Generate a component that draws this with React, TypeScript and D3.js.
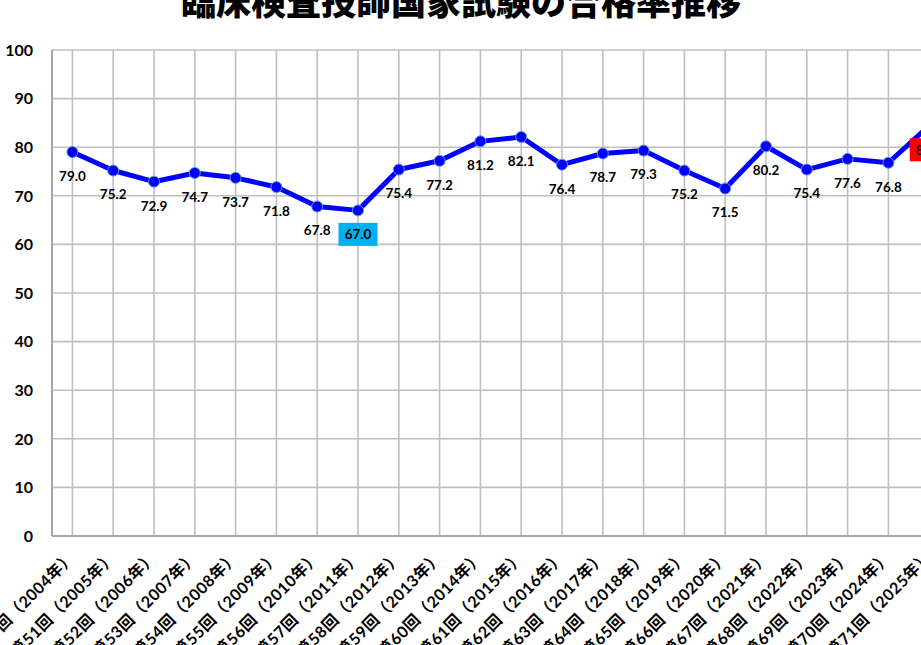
import * as d3 from 'd3'

const categories = [
  '第50回（2004年）', '第51回（2005年）', '第52回（2006年）', '第53回（2007年）',
  '第54回（2008年）', '第55回（2009年）', '第56回（2010年）', '第57回（2011年）',
  '第58回（2012年）', '第59回（2013年）', '第60回（2014年）', '第61回（2015年）',
  '第62回（2016年）', '第63回（2017年）', '第64回（2018年）', '第65回（2019年）',
  '第66回（2020年）', '第67回（2021年）', '第68回（2022年）', '第69回（2023年）',
  '第70回（2024年）', '第71回（2025年）'
]

const passRates = [
  79.0, 75.2, 72.9, 74.7, 73.7, 71.8, 67.8, 67.0, 75.4, 77.2, 81.2,
  82.1, 76.4, 78.7, 79.3, 75.2, 71.5, 80.2, 75.4, 77.6, 76.8, 84.4
]

const yTicks = [0, 10, 20, 30, 40, 50, 60, 70, 80, 90, 100]

// labels with a coloured box behind them
const highlights: Record<string, string> = {
  '第57回（2011年）': '#00B0F0',
  '第71回（2025年）': '#FF0000'
}

const title = '臨床検査技師国家試験の合格率推移'

const width = 921
const height = 645
const margin = { top: 50, left: 52, bottom: 536 }
const step = 40.8
const font = "Lato, 'Noto Sans CJK JP', sans-serif"

export default function App() {
  const x = d3.scalePoint<string>()
    .domain(categories)
    .range([margin.left, margin.left + step * categories.length])
    .padding(0.5)

  const y = d3.scaleLinear().domain([0, 100]).range([margin.bottom, margin.top])

  const points = categories.map((c, i) => ({ c, v: passRates[i] }))

  const line = d3.line<{ c: string; v: number }>()
    .x(d => x(d.c) as number)
    .y(d => y(d.v))

  const right = margin.left + step * categories.length

  return (
    <svg width={width} height={height}
      style={{ position: 'absolute', left: 0, top: 0, background: '#fff' }}>
      <text x={461} y={15} textAnchor="middle" fontFamily="'Noto Sans CJK JP', sans-serif"
        fontWeight={900} fontSize={35} fill="#000">{title}</text>

      {/* grid */}
      {yTicks.filter(t => t > 0).map(t => (
        <line key={t} x1={margin.left} x2={right} y1={y(t)} y2={y(t)}
          stroke="#BFBFBF" strokeWidth={1.6} />
      ))}
      {categories.map(c => (
        <line key={c} x1={x(c)} x2={x(c)} y1={margin.top} y2={margin.bottom}
          stroke="#BFBFBF" strokeWidth={1.6} />
      ))}
      <line x1={margin.left} x2={margin.left} y1={margin.top} y2={margin.bottom}
        stroke="#A6A6A6" strokeWidth={2} />
      <line x1={margin.left} x2={right} y1={margin.bottom} y2={margin.bottom}
        stroke="#A6A6A6" strokeWidth={2} />

      {/* y axis labels */}
      {yTicks.map(t => (
        <text key={t} x={33} y={y(t)} dy="0.36em" textAnchor="end" fontFamily={font}
          fontWeight={700} fontSize={16} fill="#000">{t}</text>
      ))}

      {/* x axis labels */}
      {categories.map(c => (
        <text key={c} transform={`translate(${(x(c) as number) + 4},${margin.bottom + 22}) rotate(-45)`}
          textAnchor="end" fontFamily={font} fontWeight={700} fontSize={16} letterSpacing={0.5}
          fill="#000">{c}</text>
      ))}

      <path d={line(points) || ''} fill="none" stroke="#0000FF" strokeWidth={5}
        strokeLinejoin="round" />
      {points.map(p => (
        <circle key={p.c} cx={x(p.c)} cy={y(p.v)} r={5.5} fill="#0000FF"
          stroke="#5B9BD5" strokeWidth={1} />
      ))}

      {/* data labels */}
      {points.map(p => {
        const cx = x(p.c) as number
        const cy = y(p.v) + 24
        const bg = highlights[p.c]
        return (
          <g key={p.c}>
            {bg && <rect x={cx - 19.5} y={cy - 11.5} width={39} height={23} fill={bg} />}
            <text x={cx} y={cy} dy="0.36em" textAnchor="middle" fontFamily={font}
              fontWeight={700} fontSize={13.5} fill="#000">{p.v.toFixed(1)}</text>
          </g>
        )
      })}
    </svg>
  )
}
